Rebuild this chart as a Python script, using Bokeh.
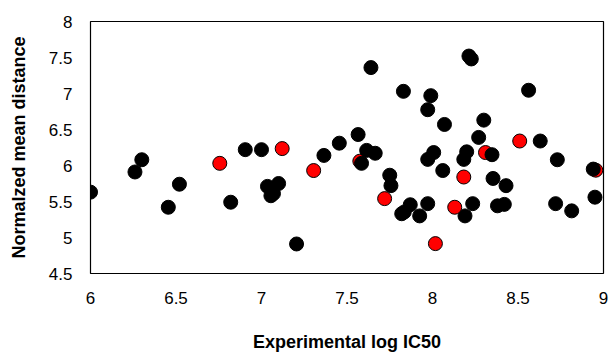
from bokeh.plotting import figure
from bokeh.models import ColumnDataSource, FixedTicker
from bokeh.embed import file_html
from bokeh.resources import INLINE

# Points in drawing order (later ones drawn on top)
hidden_red_x = [7.575, 8.31, 8.955]
hidden_red_y = [6.06, 6.18, 5.935]

black_x = [6.00, 6.26, 6.30, 6.52, 6.455, 6.82, 6.905, 7.00, 7.035, 7.10, 7.055, 7.07,
           7.205, 7.365, 7.455, 7.565, 7.615, 7.665, 7.585, 7.64, 7.83, 7.75, 7.757,
           7.82, 7.835, 7.87, 7.925, 7.972, 7.99, 7.972, 8.07, 7.972, 8.007, 8.06,
           8.19, 8.235, 8.183, 8.20, 8.213, 8.227, 8.27, 8.30, 8.348, 8.354, 8.43,
           8.38, 8.42, 8.562, 8.63, 8.73, 8.72, 8.814, 8.94, 8.95]
black_y = [5.63, 5.91, 6.08, 5.74, 5.42, 5.49, 6.22, 6.22, 5.71, 5.75, 5.58, 5.61,
           4.91, 6.14, 6.31, 6.43, 6.21, 6.17, 6.03, 7.36, 7.03, 5.865, 5.72,
           5.33, 5.355, 5.455, 5.30, 5.47, 6.97, 6.775, 6.57, 6.085, 6.18, 5.93,
           5.30, 5.47, 6.085, 6.19, 7.52, 7.48, 6.39, 6.63, 6.15, 5.82, 5.72,
           5.44, 5.46, 7.045, 6.34, 6.08, 5.47, 5.37, 5.95, 5.56]

red_x = [6.756, 7.121, 7.305, 7.72, 8.017, 8.13, 8.183, 8.51]
red_y = [6.03, 6.235, 5.93, 5.54, 4.915, 5.42, 5.84, 6.34]

x_ticks = [6, 6.5, 7, 7.5, 8, 8.5, 9]
y_ticks = [4.5, 5, 5.5, 6, 6.5, 7, 7.5, 8]

x_title = "Experimental log IC50"
y_title = "Normalzed mean distance"

xs = hidden_red_x + black_x + red_x
ys = hidden_red_y + black_y + red_y
colors = (["#FF0000"] * len(hidden_red_x) + ["#000000"] * len(black_x)
          + ["#FF0000"] * len(red_x))
src = ColumnDataSource(dict(x=xs, y=ys, c=colors))

p = figure(width=609, height=354, x_range=(x_ticks[0], x_ticks[-1]),
           y_range=(y_ticks[0], y_ticks[-1]),
           output_backend="svg", toolbar_location=None,
           min_border_left=90, min_border_right=6, min_border_top=21,
           min_border_bottom=74)
p.background_fill_color = "white"
p.border_fill_color = "white"
p.outline_line_color = "#000000"
p.outline_line_width = 1.2
p.outline_line_alpha = 1.0
p.xgrid.visible = False
p.ygrid.visible = False

p.scatter("x", "y", source=src, size=14, fill_color="c", line_color="#000000",
          line_width=1)

for ax in (p.xaxis[0], p.yaxis[0]):
    ax.axis_line_color = None
    ax.major_tick_line_color = None
    ax.minor_tick_line_color = None
    ax.major_tick_out = 0
    ax.major_tick_in = 0
    ax.major_label_text_font = "Liberation Sans"
    ax.major_label_text_font_size = "17px"
    ax.major_label_text_color = "#000000"
    ax.axis_label_text_font = "Liberation Sans"
    ax.axis_label_text_font_size = "18px"
    ax.axis_label_text_font_style = "bold"
    ax.axis_label_text_color = "#000000"

bx = p.xaxis[0]
ly = p.yaxis[0]
bx.ticker = FixedTicker(ticks=x_ticks)
ly.ticker = FixedTicker(ticks=y_ticks)
bx.major_label_overrides = {6: "6", 9: "9", 7: "7", 8: "8"}
ly.major_label_overrides = {8: "8", 7: "7", 6: "6", 5: "5"}
bx.axis_label = x_title
ly.axis_label = y_title
bx.major_label_standoff = 18
ly.major_label_standoff = 18
bx.axis_label_standoff = 25
ly.axis_label_standoff = 17

open("out.html", "w").write(file_html(p, INLINE))
